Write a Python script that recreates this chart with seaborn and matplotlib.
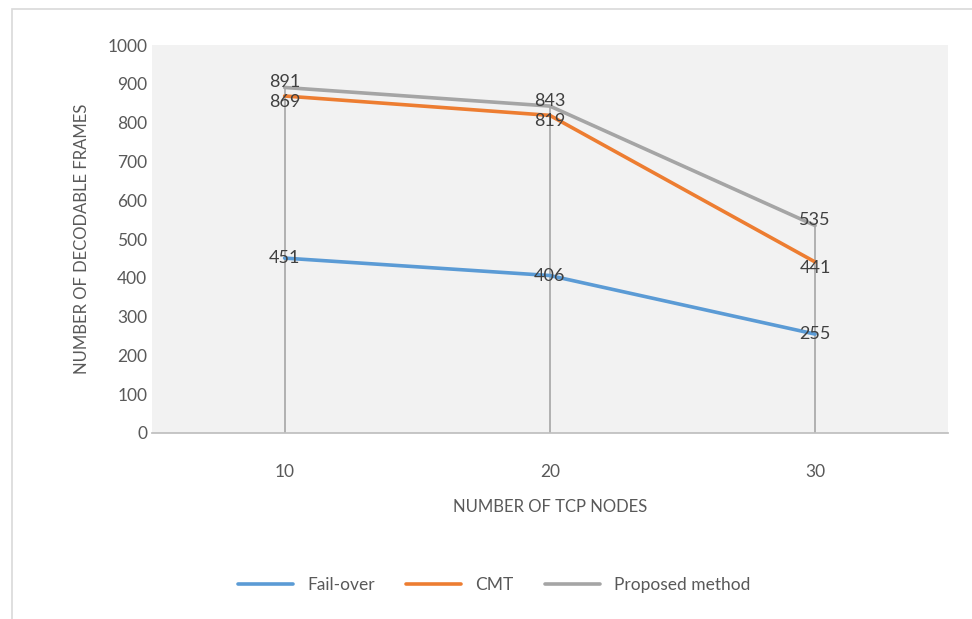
import pandas as pd
import seaborn as sns
import matplotlib.pyplot as plt
from matplotlib.patches import Rectangle

nodes = ["10", "20", "30"]
fail_over = [451, 406, 255]
cmt = [869, 819, 441]
proposed = [891, 843, 535]

series_names = ["Fail-over", "CMT", "Proposed method"]
colors = ["#5b9bd5", "#ed7d31", "#a5a5a5"]

df = pd.DataFrame({
    "nodes": nodes * 3,
    "frames": fail_over + cmt + proposed,
    "series": [s for s in series_names for _ in nodes],
})

sns.set_theme(style="white")
plt.rcParams['font.family'] = ['Lato', 'DejaVu Sans']

fig = plt.figure(figsize=(9.72, 6.19), dpi=100)
ax = fig.add_axes([0.1564, 0.3005, 0.8186, 0.6265])
ax.set_facecolor("#f2f2f2")

# outer chart frame
fig.patches.append(Rectangle((0.012, -0.02), 1.0, 1.005, transform=fig.transFigure,
                             fill=False, edgecolor="#d9d9d9", linewidth=1.2))

# high-low drop lines
tops = [max(a, b, c) for a, b, c in zip(fail_over, cmt, proposed)]
ax.vlines(range(len(nodes)), 0, tops, color="#a6a6a6", linewidth=1.2, zorder=1)

sns.lineplot(data=df, x="nodes", y="frames", hue="series", palette=colors,
             linewidth=2.6, sort=False, ax=ax, zorder=3)

# small vertical nudges so the close CMT / proposed labels stay readable
nudges = [0, -4, 4]
for vals, dy in zip([fail_over, cmt, proposed], nudges):
    for i, v in enumerate(vals):
        ax.annotate(str(v), (i, v), xytext=(0, dy), textcoords="offset points",
                    ha="center", va="center", fontsize=13, color="#404040", zorder=4)

ax.set_xlim(-0.5, 2.5)
ax.set_ylim(0, 1000)
ax.set_yticks(range(0, 1001, 100))
ax.tick_params(axis="both", labelsize=12.5, labelcolor="#595959", length=0)
ax.tick_params(axis="x", pad=22)
for side in ["top", "right", "left"]:
    ax.spines[side].set_visible(False)
ax.spines["bottom"].set_color("#bfbfbf")

ax.set_xlabel("NUMBER OF TCP NODES", fontsize=12, color="#595959", labelpad=14)
ax.set_ylabel("NUMBER OF DECODABLE FRAMES", fontsize=12, color="#595959", labelpad=12)

ax.legend(loc="upper center", bbox_to_anchor=(0.43, -0.33), ncol=3, frameon=False,
          fontsize=12.5, handlelength=3.2, columnspacing=1.8, labelcolor="#595959")

fig.savefig("out.png", dpi=100)
